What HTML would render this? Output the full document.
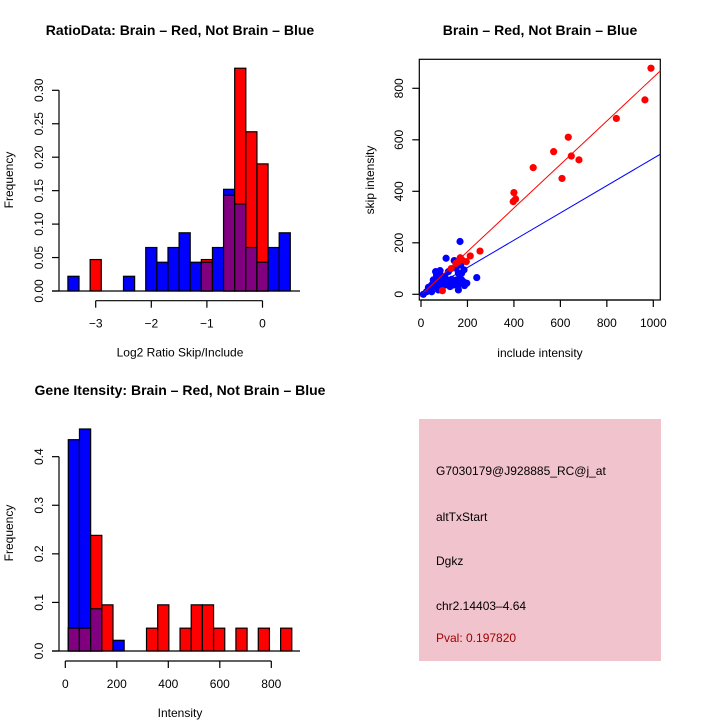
<!DOCTYPE html>
<html><head><meta charset="utf-8"><style>
body{margin:0;background:#fff}
svg{display:block;font-family:"Liberation Sans",sans-serif}
</style></head><body>
<svg id="c" width="720" height="720" xmlns="http://www.w3.org/2000/svg">
<rect x="0" y="0" width="720" height="720" fill="#fff"/>
<g id="p1"></g>
<g id="p2"></g>
<g id="p3"></g>
<g id="p4">
<rect x="419" y="419" width="242" height="242" fill="#f1c3cd"/>
<text x="436" y="475" font-size="12">G7030179@J928885_RC@j_at</text>
<text x="436" y="521" font-size="12">altTxStart</text>
<text x="436" y="565" font-size="12">Dgkz</text>
<text x="436" y="610" font-size="12">chr2.14403–4.64</text>
<text x="436" y="642" font-size="12" fill="#a00000">Pval: 0.197820</text>
</g>
</svg>
<script>
// Panel 1 data: log2 ratio histogram (bins -3.5..0.5 step 0.2)
const ratioBinStart = -3.5;
const ratioBinWidth = 0.2;
const ratioBlue = [0.022,0,0,0,0,0.022,0,0.065,0.043,0.065,0.087,0.043,0.043,0.065,0.152,0.130,0.065,0.043,0.065,0.087];
const ratioRed  = [0,0,0.047,0,0,0,0,0,0,0,0,0,0.047,0,0.143,0.333,0.238,0.190,0,0];
const ratioYTicks = [0,0.05,0.10,0.15,0.20,0.25,0.30];
const ratioYLabels = ["0.00","0.05","0.10","0.15","0.20","0.25","0.30"];
const ratioXTicks = [-3,-2,-1,0];
const ratioXLabels = ["−3","−2","−1","0"];

// Panel 3 data: intensity histogram
const intBinStart = 11.6;
const intBinWidth = 43.4;
const intBlue = [0.435,0.457,0.087,0,0.022,0,0,0,0,0,0,0,0,0,0,0,0,0,0,0];
const intRed  = [0.047,0.047,0.238,0.095,0,0,0,0.047,0.095,0,0.047,0.095,0.095,0.047,0,0.047,0,0.047,0,0.047];
const intYTicks = [0,0.1,0.2,0.3,0.4];
const intYLabels = ["0.0","0.1","0.2","0.3","0.4"];
const intXTicks = [0,200,400,600,800];
const intXLabels = ["0","200","400","600","800"];

// Panel 2 data: scatter
const redInclude = [990,964,841,634,571,647,680,607,483,400,397,407,254,212,195,169,92,161,130,150,175];
const redSkip    = [878,755,683,610,554,537,522,450,492,395,360,370,168,149,127,142,14,127,100,120,135];
const blueInclude = [168,108,143,151,168,185,240,82,63,118,168,161,182,187,32,43,53,67,75,89,96,103,125,132,146,175,161,82,60,46,110,139,154,175,75,89,125,165,171,46,24,67,103,10,197,161];
const blueSkip    = [205,140,131,101,120,95,65,92,88,88,65,36,49,34,27,19,56,43,62,71,49,36,43,58,49,82,17,32,32,36,56,36,56,56,17,23,30,126,114,10,10,75,69,0,43,82];
const redFit = [-3, 0.845];
const blueFit = [-2, 0.53];
const scXTicks = [0,200,400,600,800,1000];
const scYTicks = [0,200,400,600,800];

const NS = "http://www.w3.org/2000/svg";
function mk(parent, tag, attrs){ const e=document.createElementNS(NS,tag); for(const k in attrs) e.setAttribute(k,attrs[k]); parent.appendChild(e); return e; }
function txt(parent, x, y, s, size, extra){ const t=mk(parent,'text',Object.assign({x:x,y:y,'font-size':size,'text-anchor':'middle'},extra||{})); t.textContent=s; return t; }

function histogram(g, o){
  const xs = v => o.x0 + v*o.kx;
  const ys = v => o.y0 - v*o.ky;
  const n = o.blue.length;
  for(let i=0;i<n;i++){
    const l = xs(o.start+i*o.w), r = xs(o.start+(i+1)*o.w);
    const b=o.blue[i], rd=o.red[i];
    if(b>0){ const e=mk(g,'rect',{x:l,y:ys(b),width:r-l,height:ys(0)-ys(b),fill:'#0000ff',stroke:'#000','stroke-width':1.2});
        }
    if(rd>0){ const e=mk(g,'rect',{x:l,y:ys(rd),width:r-l,height:ys(0)-ys(rd),fill:'#ff0000',stroke:'#000','stroke-width':1.2});
        }
    const m=Math.min(b,rd);
    if(m>0){ const e=mk(g,'rect',{x:l,y:ys(m),width:r-l,height:ys(0)-ys(m),fill:'#800080',stroke:'#000','stroke-width':1.2});
        }
  }
  mk(g,'line',{x1:52,y1:o.y0,x2:300,y2:o.y0,stroke:'#000','stroke-width':1.2});
  // y axis
  const ya=mk(g,'g',{});  
  mk(ya,'line',{x1:59,y1:ys(o.yt[0]),x2:59,y2:ys(o.yt[o.yt.length-1]),stroke:'#000','stroke-width':1.2});
  o.yt.forEach((v,i)=>{ mk(ya,'line',{x1:52,y1:ys(v),x2:59,y2:ys(v),stroke:'#000','stroke-width':1.2});
    const t=txt(ya,0,0,o.yl[i],12,{transform:`translate(43,${ys(v)}) rotate(-90)`}); });
  const xa=mk(g,'g',{});  
  mk(xa,'line',{x1:xs(o.xt[0]),y1:o.axY,x2:xs(o.xt[o.xt.length-1]),y2:o.axY,stroke:'#000','stroke-width':1.2});
  o.xt.forEach((v,i)=>{ mk(xa,'line',{x1:xs(v),y1:o.axY,x2:xs(v),y2:o.axY+7,stroke:'#000','stroke-width':1.2});
    txt(xa,xs(v),o.axY+27,o.xl[i],12); });
  const yt=txt(g,0,0,'Frequency',12,{transform:`translate(13,${o.ylabY}) rotate(-90)`});  
  const xt=txt(g,180,o.axY+56,o.xlab,12);  
  const tt=txt(g,180,o.titleY,o.title,14,{'font-weight':'bold'});  
}

histogram(document.getElementById('p1'),{x0:262.5,kx:55.6,y0:291,ky:669,start:ratioBinStart,w:ratioBinWidth,blue:ratioBlue,red:ratioRed,
  yt:ratioYTicks,yl:ratioYLabels,xt:ratioXTicks,xl:ratioXLabels,axY:300.7,xlab:'Log2 Ratio Skip/Include',ylabY:180,title:'RatioData: Brain – Red, Not Brain – Blue',titleY:35});
histogram(document.getElementById('p3'),{x0:65.3,kx:0.2575,y0:651,ky:485.8,start:intBinStart,w:intBinWidth,blue:intBlue,red:intRed,
  yt:intYTicks,yl:intYLabels,xt:intXTicks,xl:intXLabels,axY:661,xlab:'Intensity',ylabY:533,title:'Gene Itensity: Brain – Red, Not Brain – Blue',titleY:395});

// scatter
(function(){
  const g=document.getElementById('p2');
  const xs=v=>421+v*0.2323, ys=v=>294.3-v*0.2575;
  const L=419.3,T=59.3,R=660.3,B=300;
  const box=mk(g,'rect',{x:L,y:T,width:R-L,height:B-T,fill:'none',stroke:'#000','stroke-width':1.2});
   
  const xa=mk(g,'g',{});  
  mk(xa,'line',{x1:xs(0),y1:B,x2:xs(1000),y2:B,stroke:'#000','stroke-width':1.2});
  scXTicks.forEach(v=>{ mk(xa,'line',{x1:xs(v),y1:B,x2:xs(v),y2:B+7,stroke:'#000','stroke-width':1.2}); txt(xa,xs(v),B+27,String(v),12); });
  const ya=mk(g,'g',{});  
  mk(ya,'line',{x1:L,y1:ys(0),x2:L,y2:ys(800),stroke:'#000','stroke-width':1.2});
  scYTicks.forEach(v=>{ mk(ya,'line',{x1:L-7,y1:ys(v),x2:L,y2:ys(v),stroke:'#000','stroke-width':1.2}); txt(ya,0,0,String(v),12,{transform:`translate(403,${ys(v)}) rotate(-90)`}); });
  const clip=mk(g,'clipPath',{id:'sc'}); mk(clip,'rect',{x:L,y:T,width:R-L,height:B-T});
  const pts=mk(g,'g',{'clip-path':'url(#sc)'});
  blueInclude.forEach((v,i)=>{ const c=mk(pts,'circle',{cx:xs(v),cy:ys(blueSkip[i]),r:3.6,fill:'#0000ff'});
      });
  redInclude.forEach((v,i)=>{ const c=mk(pts,'circle',{cx:xs(v),cy:ys(redSkip[i]),r:3.6,fill:'#ff0000'});
      });
  const x0=-10,x1=1040;
  const rl=mk(pts,'line',{x1:xs(x0),y1:ys(redFit[0]+redFit[1]*x0),x2:xs(x1),y2:ys(redFit[0]+redFit[1]*x1),stroke:'#ff0000','stroke-width':1});
   
  const bl=mk(pts,'line',{x1:xs(x0),y1:ys(blueFit[0]+blueFit[1]*x0),x2:xs(x1),y2:ys(blueFit[0]+blueFit[1]*x1),stroke:'#0000ff','stroke-width':1});
   
  const xt=txt(g,540,357,'include intensity',12);  
  const yt=txt(g,0,0,'skip intensity',12,{transform:'translate(374,180) rotate(-90)'});  
  const tt=txt(g,540,35,'Brain – Red, Not Brain – Blue',14,{'font-weight':'bold'});  
})();
</script>
</body></html>
